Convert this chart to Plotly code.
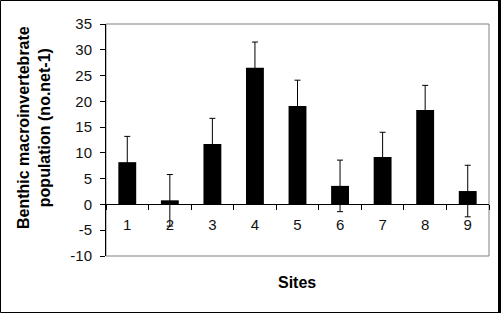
import plotly.graph_objects as go

sites = ["1", "2", "3", "4", "5", "6", "7", "8", "9"]
population = [8.2, 0.8, 11.7, 26.5, 19.1, 3.6, 9.2, 18.3, 2.6]
errors = [5.0, 5.0, 5.0, 5.0, 5.0, 5.0, 4.8, 4.8, 5.0]
y_ticks = [-10, -5, 0, 5, 10, 15, 20, 25, 30, 35]
y_tick_text = ["-10", "-5", "0", "5", "10", "15", "20", "25", "30", "35"]

W, H = 501, 314
L, R, T, B = 106, 12, 24, 58
PW, PH = W - L - R, H - T - B

def px(x):
    return (x - L) / PW

def py(y):
    return (H - B - y) / PH

font = "Liberation Sans, Arial, sans-serif"

fig = go.Figure()
fig.add_trace(go.Bar(
    x=sites, y=population,
    marker=dict(color="black", line=dict(width=0)),
    width=0.42,
    error_y=dict(type="data", array=errors, symmetric=True,
                 color="black", thickness=1, width=3),
))

fig.update_layout(
    width=W, height=H,
    margin=dict(l=L, r=R, t=T, b=B, pad=0),
    paper_bgcolor="white", plot_bgcolor="white",
    showlegend=False,
    font=dict(family=font, size=15, color="black"),
    xaxis=dict(
        type="category", anchor="free", position=10 / 45,
        showline=True, linecolor="black", linewidth=1,
        ticks="outside", ticklen=5, tickcolor="black", tickwidth=1,
        tickson="boundaries", showgrid=False, zeroline=False,
        ticklabelstandoff=7,
        tickfont=dict(family=font, size=15, color="#111111"),
    ),
    yaxis=dict(
        range=[-10, 35], tickvals=y_ticks, ticktext=y_tick_text,
        showline=True, linecolor="black", linewidth=1,
        ticks="outside", ticklen=5, tickcolor="black", tickwidth=1,
        showgrid=False, zeroline=False, ticklabelstandoff=5,
        tickfont=dict(family=font, size=15, color="#111111"),
    ),
    shapes=[
        dict(type="rect", xref="paper", yref="paper", x0=0, x1=1, y0=0, y1=1,
             line=dict(color="#808080", width=1), layer="below"),
        dict(type="rect", xref="paper", yref="paper",
             x0=px(0.5), x1=px(499.5), y0=py(312.5), y1=py(0.5),
             line=dict(color="black", width=1), layer="above"),
        dict(type="line", xref="paper", yref="paper",
             x0=px(499.5), x1=px(499.5), y0=py(313), y1=py(0),
             line=dict(color="black", width=3), layer="above"),
    ],
    annotations=[
        dict(text="<b>Sites</b>", xref="paper", yref="paper",
             x=px(297), y=py(282), showarrow=False,
             xanchor="center", yanchor="middle",
             font=dict(family=font, size=16, color="black")),
        dict(text="<b>Benthic macroinvertebrate<br>population (no.net-1)</b>",
             xref="paper", yref="paper", x=px(34), y=py(128),
             showarrow=False, textangle=-90,
             xanchor="center", yanchor="middle",
             font=dict(family=font, size=16, color="black")),
    ],
)

fig.write_html("out.html")
